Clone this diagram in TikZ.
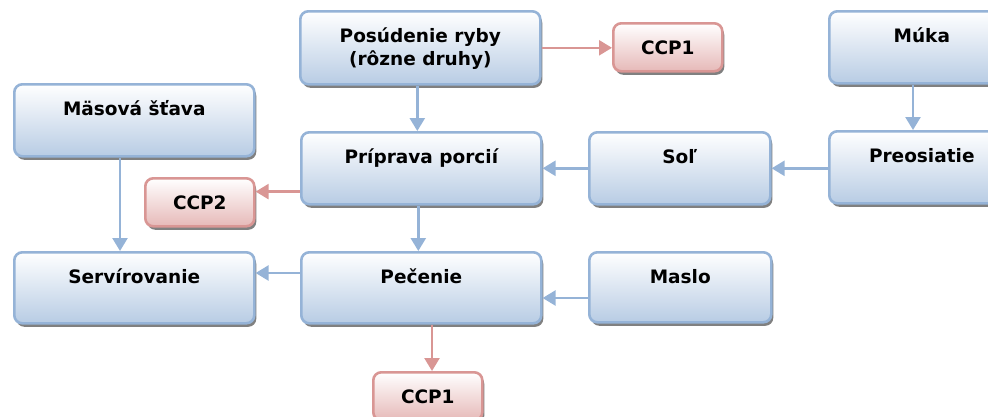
\documentclass[tikz,border=0pt]{standalone}
\usepackage{fontspec}
\setmainfont{DejaVu Sans}
\usetikzlibrary{arrows.meta,shadows,calc}
\definecolor{bbord}{HTML}{95B3D7}
\definecolor{bfill}{HTML}{B8CCE4}
\definecolor{rbord}{HTML}{D99694}
\definecolor{rfill}{HTML}{E6B9B8}
\definecolor{shadowc}{HTML}{808080}
\newcommand{\bxt}[3]{\parbox[t][#2pt][t]{#1pt}{\centering\rule{0pt}{31.5pt}#3}}
\tikzset{
  boxbase/.style={line width=2.6pt, rounded corners=8pt, inner sep=0pt, anchor=north west,
    font=\fontsize{18.5}{23}\selectfont\bfseries,
    general shadow={fill=shadowc, shadow xshift=2pt, shadow yshift=-3.5pt}},
  bbox/.style={boxbase, draw=bbord, top color=white, bottom color=bfill},
  rbox/.style={boxbase, draw=rbord, top color=white, bottom color=rfill},
  barrow/.style={draw=bbord, line width=2.5pt, -{Triangle[length=13pt,width=15pt]}},
  rarrow/.style={draw=rbord, line width=2.5pt, -{Triangle[length=13pt,width=15pt]}}
}
\begin{document}
\begin{tikzpicture}[x=1pt,y=-1pt]
\useasboundingbox (0,0) rectangle (988,416);
\node[bbox] (posud) at (299,10) {\bxt{240}{73}{Posúdenie ryby\\(rôzne druhy)}};
\node[rbox] (ccpA) at (612,22) {\bxt{109}{48}{CCP1}};
\node[bbox] (muka) at (828,10) {\bxt{185}{72}{Múka}};
\node[bbox] (mas) at (13,83) {\bxt{240}{72}{Mäsová šťava}};
\node[bbox] (prip) at (300,131) {\bxt{240}{72}{Príprava porcií}};
\node[bbox] (sol) at (588,131) {\bxt{181}{72}{Soľ}};
\node[bbox] (preos) at (828,130) {\bxt{185}{72}{Preosiatie}};
\node[rbox] (ccpB) at (144,177) {\bxt{109}{48}{CCP2}};
\node[bbox] (serv) at (13,251) {\bxt{240}{71}{Servírovanie}};
\node[bbox] (pec) at (300,251) {\bxt{240}{71}{Pečenie}};
\node[bbox] (maslo) at (588,251) {\bxt{182}{70}{Maslo}};
\node[rbox] (ccpC) at (372,371) {\bxt{109}{48}{CCP1}};

\coordinate (c1) at ([xshift=-3pt]posud.south);
\draw[barrow] (c1) -- (c1 |- prip.north);
\draw[rarrow] (posud.east) -- (posud.east -| ccpA.west);
\coordinate (c3) at ([xshift=85pt]muka.south west);
\draw[barrow] (c3) -- (c3 |- preos.north);
\draw[barrow] (sol.east -| preos.west) -- (sol.east);
\draw[barrow] (sol.west) -- (sol.west -| prip.east);
\coordinate (c6) at ([yshift=14pt]prip.south west);
\draw[rarrow] (c6) -- (c6 -| ccpB.east);
\coordinate (c7) at ([xshift=-3pt]prip.south);
\draw[barrow] (c7) -- (c7 |- pec.north);
\coordinate (c8) at ([xshift=107pt]mas.south west);
\draw[barrow] (c8) -- (c8 |- serv.north);
\coordinate (c9) at ([yshift=-22pt]pec.north west);
\draw[barrow] (c9) -- (c9 -| serv.east);
\coordinate (c10) at ([yshift=-47pt]maslo.north west);
\draw[barrow] (c10) -- (c10 -| pec.east);
\coordinate (c11) at ([xshift=132pt]pec.south west);
\draw[rarrow] (c11) -- (c11 |- ccpC.north);
\end{tikzpicture}
\end{document}
